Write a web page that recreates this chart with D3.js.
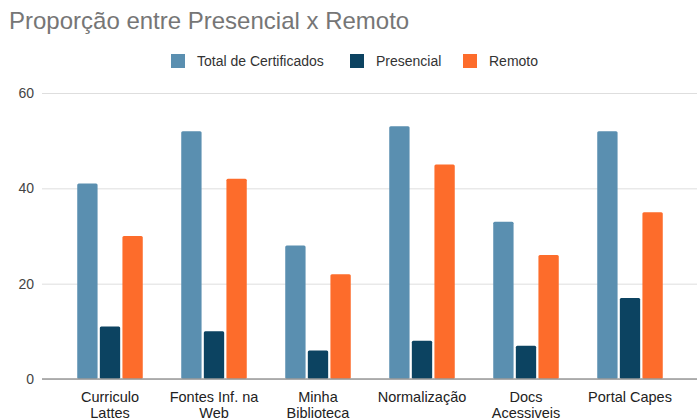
<!DOCTYPE html>
<html>
<head>
<meta charset="utf-8">
<script src="https://cdn.jsdelivr.net/npm/d3@7"></script>
<style>
  body { margin: 0; background: #fff; }
  #chart { width: 697px; height: 419px; }
  text { font-family: "Liberation Sans", Arial, sans-serif; }
</style>
</head>
<body>
<div id="chart"></div>
<script>
// -- data --
var categories = ["Curriculo|Lattes", "Fontes Inf. na|Web", "Minha|Biblioteca", "Normalização", "Docs|Acessiveis", "Portal Capes"];
var series = ["Total de Certificados", "Presencial", "Remoto"];
var total = [41, 52, 28, 53, 33, 52];
var presencial = [11, 10, 6, 8, 7, 17];
var remoto = [30, 42, 22, 45, 26, 35];
var y_ticks = [0, 20, 40, 60];
var colors = ["#5a8fb0", "#0c4361", "#fd6c2b"];

var values = [total, presencial, remoto];

var width = 697, height = 419;
var svg = d3.select("#chart").append("svg")
  .attr("width", width)
  .attr("height", height);

// == scales ==
var x0 = d3.scaleBand()
  .domain(categories)
  .range([58, 682])
  .paddingInner(0.37)
  .paddingOuter(0.185);

var x1 = d3.scaleBand()
  .domain(series)
  .range([0, x0.bandwidth()])
  .paddingInner(0.1);

var y = d3.scaleLinear()
  .domain([0, 60])
  .range([379, 93]);

var color = d3.scaleOrdinal().domain(series).range(colors);

// == title ==
svg.append("text")
  .text("Proporção entre Presencial x Remoto")
  .attr("x", 9)
  .attr("y", 29)
  .style("font-size", "24px")
  .style("fill", "#767676");

// == legend ==
var legend_x = [171, 350, 463];
var legend = svg.selectAll(".legend")
  .data(series)
  .enter()
  .append("g")
  .attr("transform", function (d, i) { return "translate(" + legend_x[i] + ",54)"; });

legend.append("rect")
  .attr("width", 14)
  .attr("height", 14)
  .attr("fill", function (d) { return color(d); });

legend.append("text")
  .text(function (d) { return d; })
  .attr("x", 26)
  .attr("y", 11.5)
  .style("font-size", "14px")
  .style("fill", "#333");

// == grid ==
var grid = svg.append("g")
  .attr("transform", "translate(42,0)")
  .call(d3.axisLeft(y).tickValues(y_ticks).tickSize(-655).tickFormat(""));
grid.select(".domain").remove();
grid.selectAll("line").attr("stroke", "#dedede");

// -- y labels --
svg.selectAll(".ylab")
  .data(y_ticks)
  .enter()
  .append("text")
  .text(function (d) { return d; })
  .attr("x", 34)
  .attr("y", function (d) { return y(d) + 5; })
  .attr("text-anchor", "end")
  .style("font-size", "14px")
  .style("fill", "#444");

// == bars ==
var groups = svg.selectAll(".group")
  .data(categories)
  .enter()
  .append("g")
  .attr("transform", function (d) { return "translate(" + x0(d) + ",0)"; });

groups.selectAll("rect")
  .data(function (d, i) {
    return series.map(function (s, j) { return { s: s, v: values[j][i] }; });
  })
  .enter()
  .append("rect")
  .attr("x", function (d) { return x1(d.s); })
  .attr("y", function (d) { return y(d.v); })
  .attr("width", x1.bandwidth())
  .attr("height", function (d) { return y(0) - y(d.v); })
  .attr("rx", 1.5)
  .attr("fill", function (d) { return color(d.s); });

// baseline
svg.append("line")
  .attr("x1", 42).attr("x2", 697)
  .attr("y1", y(0)).attr("y2", y(0))
  .attr("stroke", "#999")
  .attr("stroke-width", 1.5);

// -- category labels --
var cat = svg.selectAll(".cat")
  .data(categories)
  .enter()
  .append("text")
  .attr("text-anchor", "middle")
  .attr("x", function (d) { return x0(d) + x0.bandwidth() / 2; })
  .attr("y", 402)
  .style("font-size", "14.5px")
  .style("fill", "#222");

cat.selectAll("tspan")
  .data(function (d) { return d.split("|"); })
  .enter()
  .append("tspan")
  .attr("x", function () { return d3.select(this.parentNode).attr("x"); })
  .attr("dy", function (d, i) { return i == 0 ? 0 : 15.5; })
  .text(function (d) { return d; });
</script>
</body>
</html>
